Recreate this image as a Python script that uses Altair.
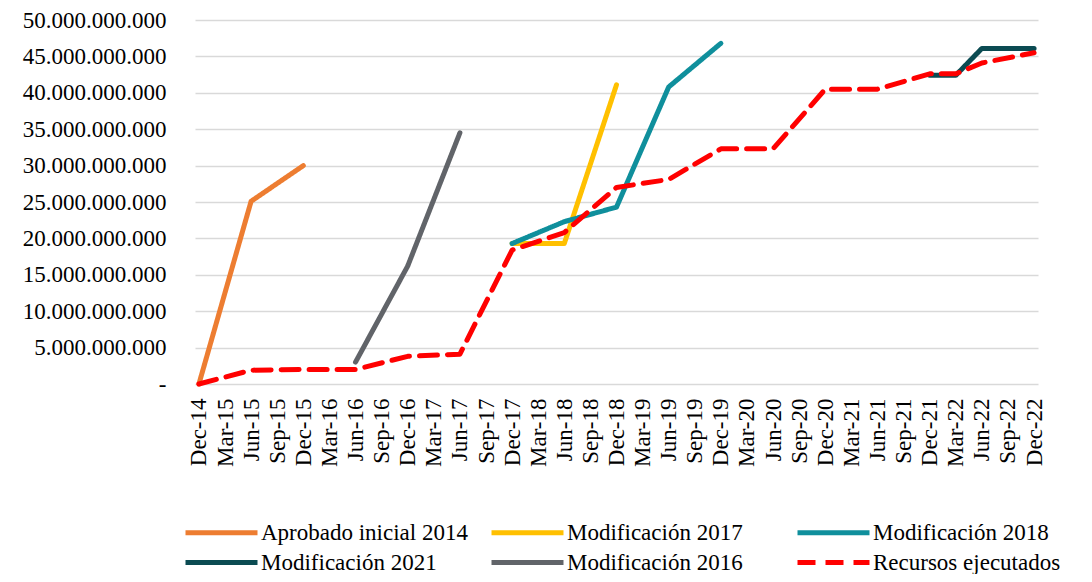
import altair as alt
import pandas as pd

periods = ["Dec-14", "Mar-15", "Jun-15", "Sep-15", "Dec-15", "Mar-16", "Jun-16", "Sep-16",
           "Dec-16", "Mar-17", "Jun-17", "Sep-17", "Dec-17", "Mar-18", "Jun-18", "Sep-18",
           "Dec-18", "Mar-19", "Jun-19", "Sep-19", "Dec-19", "Mar-20", "Jun-20", "Sep-20",
           "Dec-20", "Mar-21", "Jun-21", "Sep-21", "Dec-21", "Mar-22", "Jun-22", "Sep-22",
           "Dec-22"]

aprobado_2014_periods = ["Dec-14", "Jun-15", "Dec-15"]
aprobado_2014_values = [0, 25_100_000_000, 30_000_000_000]

mod_2016_periods = ["Jun-16", "Dec-16", "Jun-17"]
mod_2016_values = [3_000_000_000, 16_200_000_000, 34_500_000_000]

mod_2017_periods = ["Dec-17", "Jun-18", "Dec-18"]
mod_2017_values = [19_300_000_000, 19_300_000_000, 41_100_000_000]

mod_2018_periods = ["Dec-17", "Jun-18", "Dec-18", "Jun-19", "Dec-19"]
mod_2018_values = [19_300_000_000, 22_300_000_000, 24_300_000_000, 40_800_000_000, 46_800_000_000]

mod_2021_periods = ["Dec-21", "Mar-22", "Jun-22", "Dec-22"]
mod_2021_values = [42_400_000_000, 42_400_000_000, 46_100_000_000, 46_100_000_000]

ejecutados_periods = ["Dec-14", "Jun-15", "Dec-15", "Jun-16", "Dec-16", "Jun-17", "Dec-17",
                      "Jun-18", "Dec-18", "Jun-19", "Dec-19", "Jun-20", "Dec-20", "Jun-21",
                      "Dec-21", "Mar-22", "Jun-22", "Dec-22"]
ejecutados_values = [0, 1_900_000_000, 2_000_000_000, 2_000_000_000, 3_800_000_000,
                     4_100_000_000, 18_400_000_000, 20_800_000_000, 27_000_000_000,
                     28_100_000_000, 32_300_000_000, 32_300_000_000, 40_500_000_000,
                     40_500_000_000, 42_600_000_000, 42_600_000_000, 44_100_000_000,
                     45_500_000_000]

series_names = ["Aprobado inicial 2014", "Modificación 2017", "Modificación 2018",
                "Modificación 2021", "Modificación 2016", "Recursos ejecutados"]
series_colors = ["#ED7D31", "#FFC000", "#0F8F9C", "#0B4B52", "#616469", "#FF0000"]
series_dashes = [[1, 0], [1, 0], [1, 0], [1, 0], [1, 0], [18, 10]]

y_ticks = [0, 5e9, 10e9, 15e9, 20e9, 25e9, 30e9, 35e9, 40e9, 45e9, 50e9]

series = [
    ("Aprobado inicial 2014", aprobado_2014_periods, aprobado_2014_values),
    ("Modificación 2016", mod_2016_periods, mod_2016_values),
    ("Modificación 2017", mod_2017_periods, mod_2017_values),
    ("Modificación 2018", mod_2018_periods, mod_2018_values),
    ("Modificación 2021", mod_2021_periods, mod_2021_values),
    ("Recursos ejecutados", ejecutados_periods, ejecutados_values),
]

rows = []
for name, ps, vs in series:
    for p, v in zip(ps, vs):
        rows.append({"periodo": p, "valor": v, "serie": name})
df = pd.DataFrame(rows)

FONT = "Liberation Serif"

legend = alt.Legend(
    title=None, orient="none", legendX=-12, legendY=500, direction="horizontal",
    columns=3, gridAlign="all", columnPadding=13, rowPadding=5,
    symbolType="M-3.6,0H3.6", symbolSize=400, symbolStrokeWidth=5, symbolOffset=26,
    labelFont=FONT, labelFontSize=23, labelColor="#000000", labelOffset=27,
    labelLimit=400,
)

x_enc = alt.X(
    "periodo:N",
    sort=periods,
    scale=alt.Scale(type="point", domain=periods, padding=0.15),
    axis=alt.Axis(title=None, labelAngle=-90, labelFont=FONT, labelFontSize=23,
                  labelColor="#000000", ticks=False, tickSize=0, domain=False,
                  labelPadding=14, grid=False, labelOverlap=False),
)
y_enc = alt.Y(
    "valor:Q",
    scale=alt.Scale(domain=[0, 50e9], nice=False),
    axis=alt.Axis(title=None, values=y_ticks, labelFont=FONT, labelFontSize=23,
                  labelColor="#000000", ticks=False, tickSize=0, domain=False,
                  labelPadding=29, gridColor="#D9D9D9", gridWidth=1.5,
                  labelExpr="datum.value == 0 ? '-\u00a0\u00a0' : format(datum.value / 1e9, 'd') + '.000.000.000'"),
)
color_enc = alt.Color("serie:N", scale=alt.Scale(domain=series_names, range=series_colors),
                      legend=legend)
dash_enc = alt.StrokeDash("serie:N", scale=alt.Scale(domain=series_names, range=series_dashes),
                          legend=legend)

base = alt.Chart(df).mark_line(strokeWidth=5, strokeCap="round", strokeJoin="round")

solid = base.transform_filter(alt.datum.serie != "Recursos ejecutados").encode(
    x=x_enc, y=y_enc, color=color_enc, strokeDash=dash_enc, detail="serie:N")
dashed = base.transform_filter(alt.datum.serie == "Recursos ejecutados").encode(
    x=x_enc, y=y_enc, color=color_enc, strokeDash=dash_enc, detail="serie:N")

chart = alt.layer(solid, dashed).properties(
    width=843, height=364,
    autosize=alt.AutoSizeParams(type="none"),
    padding={"left": 187, "top": 12, "right": 40, "bottom": 190},
    background="#FFFFFF",
).configure_view(stroke=None)

chart.save("out.html", embed_options={"renderer": "svg", "actions": False})
